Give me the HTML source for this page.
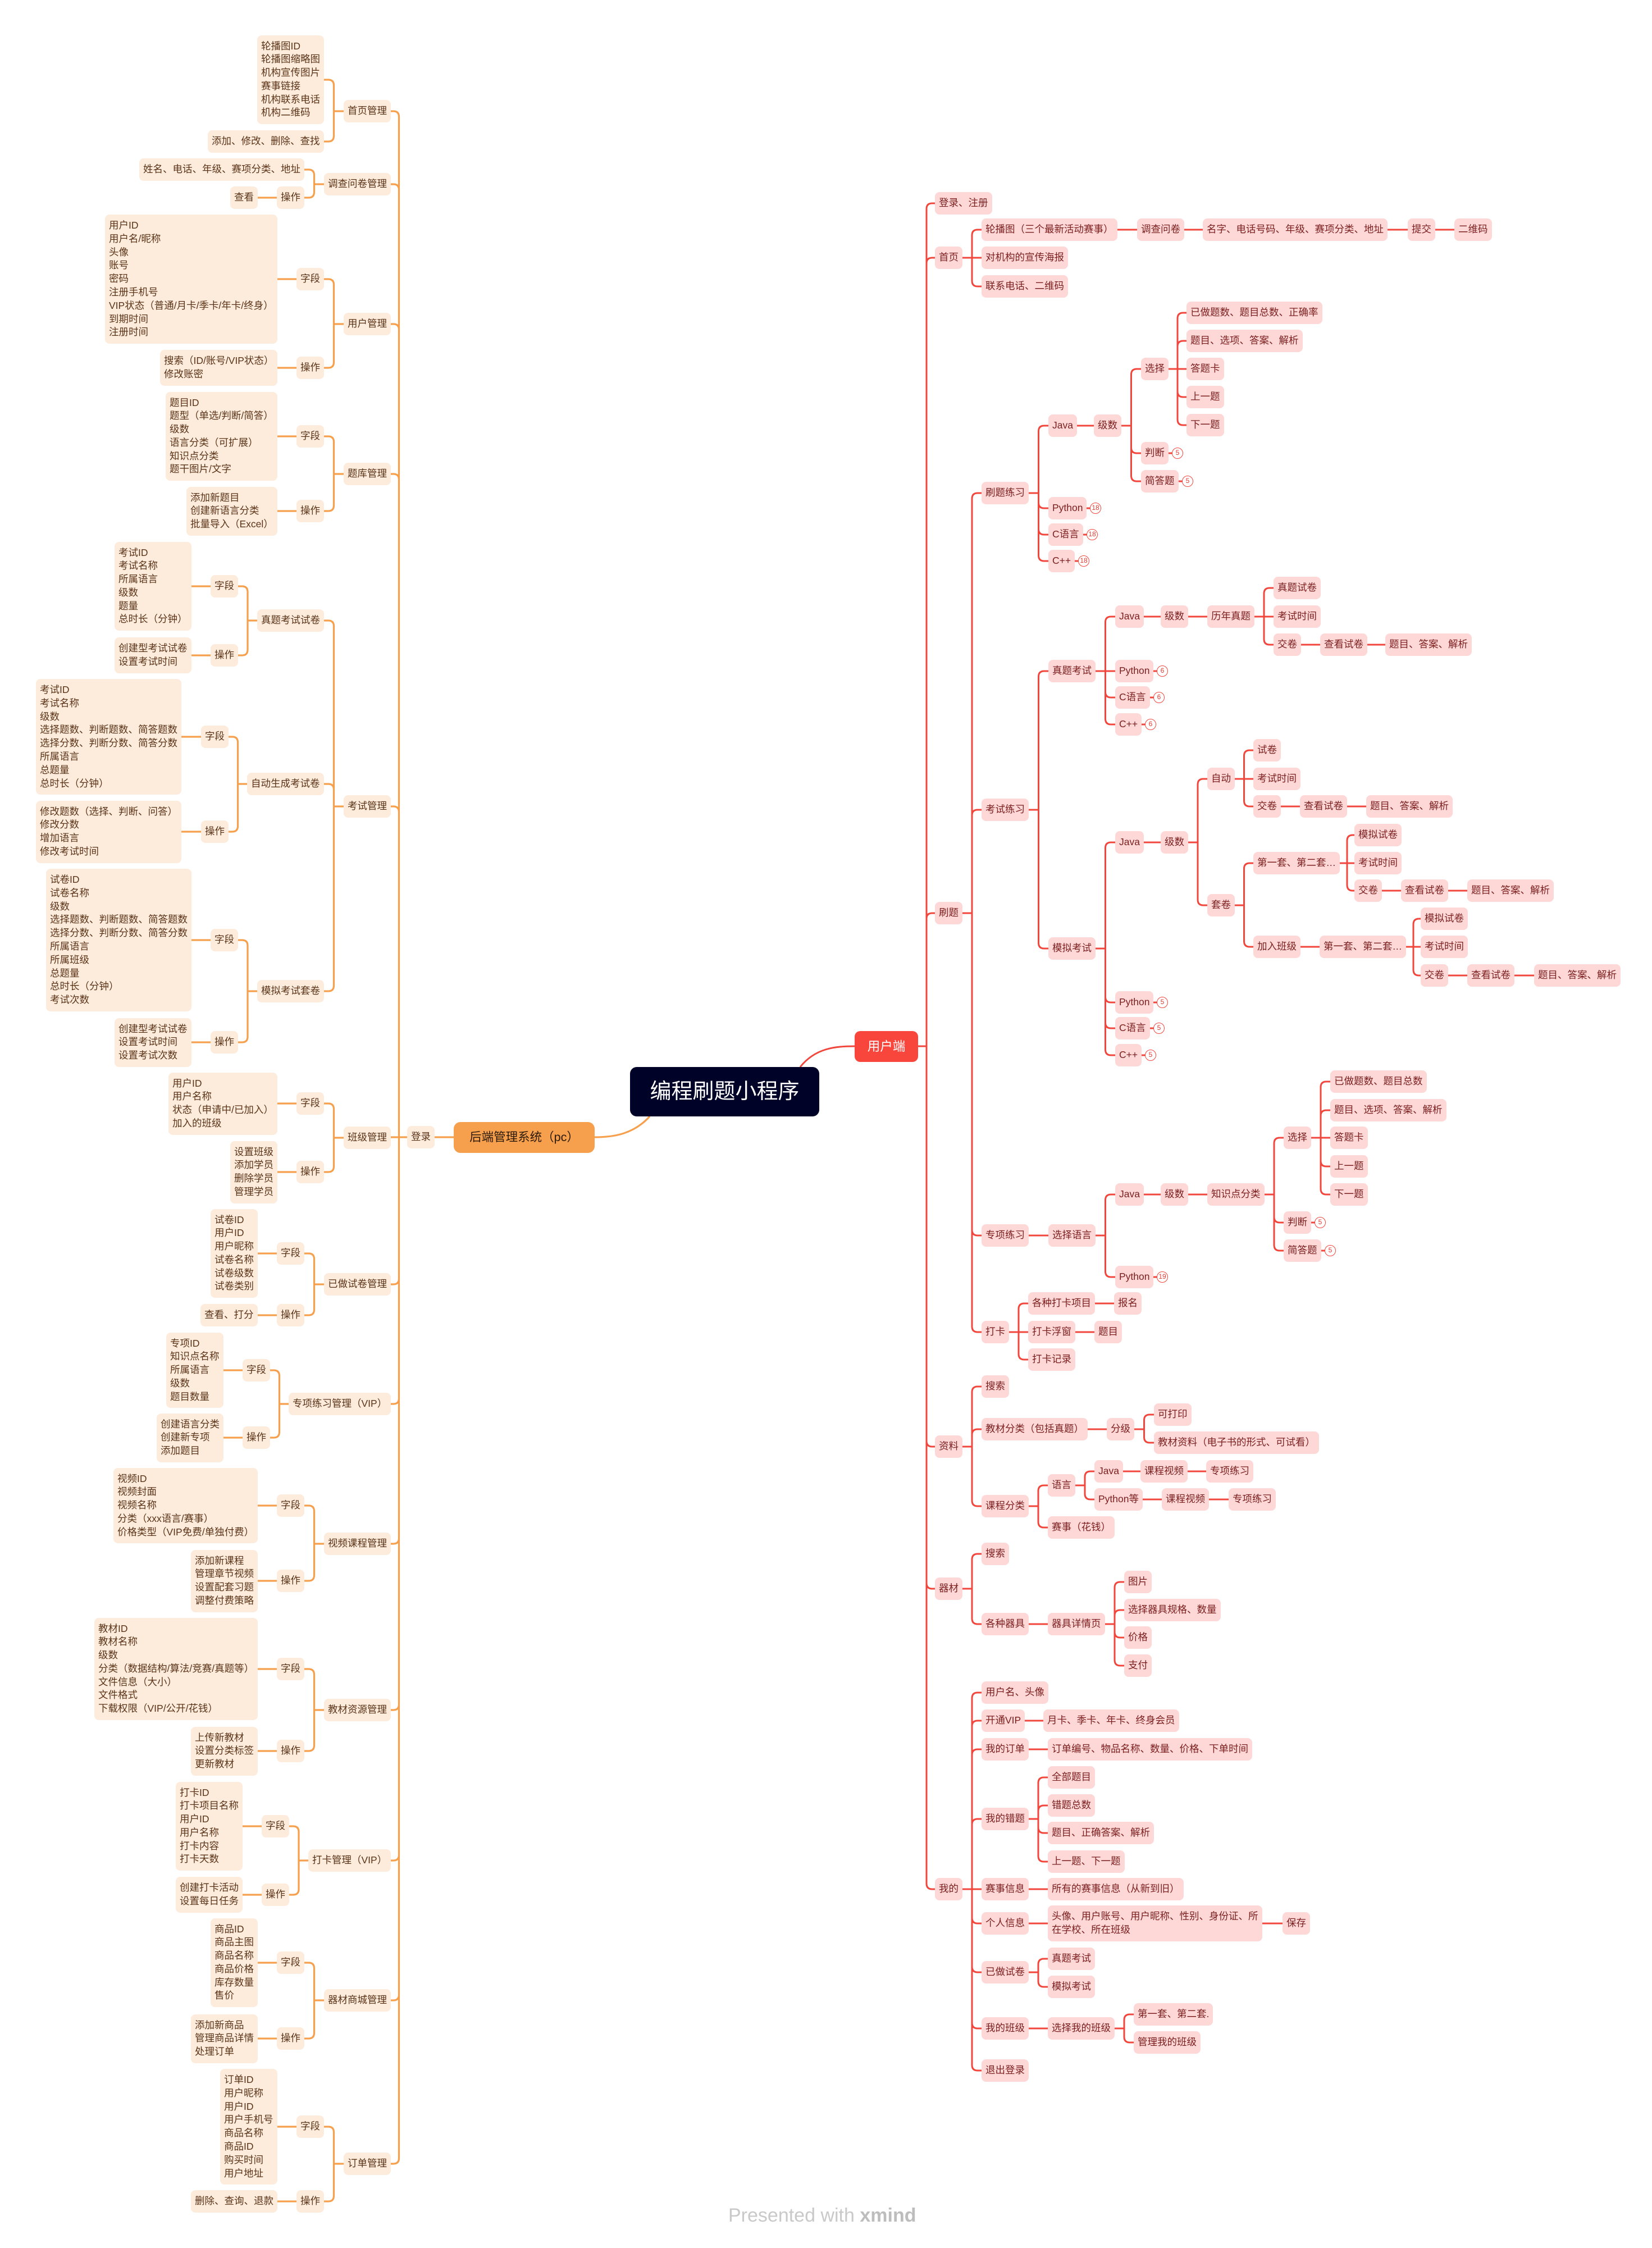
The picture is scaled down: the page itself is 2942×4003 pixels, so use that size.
<!DOCTYPE html>
<html><head><meta charset="utf-8">
<style>
html,body{margin:0;padding:0;background:#fff;}
#wrap{position:relative;width:2942px;height:4003px;overflow:hidden;font-family:"Liberation Sans","Noto Sans CJK SC",sans-serif;}
svg{position:absolute;left:0;top:0;z-index:0;}
.n{position:absolute;white-space:pre;font-size:17.5px;line-height:23.8px;padding:8px 7px;border-radius:8px;z-index:1;box-sizing:border-box;}
.L{background:#fdebdc;color:#5a3418;}
.R{background:#fed8d7;color:#7a1e1e;}
.badge{position:absolute;width:20px;height:20px;border:1.6px solid #f2463d;border-radius:50%;background:#fff;color:#e03a32;font-size:12px;text-align:center;z-index:1;box-sizing:border-box;line-height:17px;}
#root{position:absolute;left:1122px;top:1900px;width:337px;height:88px;background:#000228;color:#fff;border-radius:12px;font-size:38px;line-height:88px;text-align:center;z-index:1;}
#foot{position:absolute;left:1297px;top:3926px;font-size:34px;color:#c9c9c9;}
</style></head><body>
<div id="wrap">
<svg id="svg" width="2942" height="4003" xmlns="http://www.w3.org/2000/svg"></svg>
<div id="root">编程刷题小程序</div>
<div id="foot">Presented with <b style="color:#bdbdbd">xmind</b></div>
</div>
<script>
var W=document.getElementById('wrap');
var S=document.getElementById('svg');
var D=[
['bk','','L',1059,2025,'后端管理系统（pc）'],
['a1','bk','L',774,2025,'登录'],
['h1','a1','L',696,198,'首页管理'],
['h2','a1','L',696,328,'调查问卷管理'],
['h3','a1','L',696,577,'用户管理'],
['h4','a1','L',696,844,'题库管理'],
['h5','a1','L',696,1436,'考试管理'],
['h6','a1','L',696,2026,'班级管理'],
['h7','a1','L',696,2287,'已做试卷管理'],
['h8','a1','L',696,2500,'专项练习管理（VIP）'],
['h9','a1','L',696,2749,'视频课程管理'],
['h10','a1','L',696,3045,'教材资源管理'],
['h11','a1','L',696,3313,'打卡管理（VIP）'],
['h12','a1','L',696,3562,'器材商城管理'],
['h13','a1','L',696,3853,'订单管理'],
['h1a','h1','L',577,142,'轮播图ID\n轮播图缩略图\n机构宣传图片\n赛事链接\n机构联系电话\n机构二维码'],
['h1b','h1','L',577,252,'添加、修改、删除、查找'],
['h2a','h2','L',542,302,'姓名、电话、年级、赛项分类、地址'],
['h2b','h2','L',542,352,'操作'],
['h2c','h2b','L',459,352,'查看'],
['h3a','h3','L',577,497,'字段'],
['h3a1','h3a','L',494,497,'用户ID\n用户名/昵称\n头像\n账号\n密码\n注册手机号\nVIP状态（普通/月卡/季卡/年卡/终身）\n到期时间\n注册时间'],
['h3b','h3','L',577,655,'操作'],
['h3b1','h3b','L',494,655,'搜索（ID/账号/VIP状态）\n修改账密'],
['h4a','h4','L',577,777,'字段'],
['h4a1','h4a','L',494,777,'题目ID\n题型（单选/判断/简答）\n级数\n语言分类（可扩展）\n知识点分类\n题干图片/文字'],
['h4b','h4','L',577,910,'操作'],
['h4b1','h4b','L',494,910,'添加新题目\n创建新语言分类\n批量导入（Excel）'],
['h5a','h5','L',577,1105,'真题考试试卷'],
['h5a1','h5a','L',424,1044,'字段'],
['h5a11','h5a1','L',341,1044,'考试ID\n考试名称\n所属语言\n级数\n题量\n总时长（分钟）'],
['h5a2','h5a','L',424,1167,'操作'],
['h5a21','h5a2','L',341,1167,'创建型考试试卷\n设置考试时间'],
['h5b','h5','L',577,1396,'自动生成考试卷'],
['h5b1','h5b','L',407,1312,'字段'],
['h5b11','h5b1','L',323,1312,'考试ID\n考试名称\n级数\n选择题数、判断题数、简答题数\n选择分数、判断分数、简答分数\n所属语言\n总题量\n总时长（分钟）'],
['h5b2','h5b','L',407,1481,'操作'],
['h5b21','h5b2','L',323,1481,'修改题数（选择、判断、问答）\n修改分数\n增加语言\n修改考试时间'],
['h5c','h5','L',577,1765,'模拟考试套卷'],
['h5c1','h5c','L',424,1674,'字段'],
['h5c11','h5c1','L',341,1674,'试卷ID\n试卷名称\n级数\n选择题数、判断题数、简答题数\n选择分数、判断分数、简答分数\n所属语言\n所属班级\n总题量\n总时长（分钟）\n考试次数'],
['h5c2','h5c','L',424,1856,'操作'],
['h5c21','h5c2','L',341,1856,'创建型考试试卷\n设置考试时间\n设置考试次数'],
['h6a','h6','L',577,1965,'字段'],
['h6a1','h6a','L',494,1965,'用户ID\n用户名称\n状态（申请中/已加入）\n加入的班级'],
['h6b','h6','L',577,2087,'操作'],
['h6b1','h6b','L',494,2087,'设置班级\n添加学员\n删除学员\n管理学员'],
['h7a','h7','L',542,2232,'字段'],
['h7a1','h7a','L',459,2232,'试卷ID\n用户ID\n用户昵称\n试卷名称\n试卷级数\n试卷类别'],
['h7b','h7','L',542,2342,'操作'],
['h7b1','h7b','L',459,2342,'查看、打分'],
['h8a','h8','L',481,2440,'字段'],
['h8a1','h8a','L',398,2440,'专项ID\n知识点名称\n所属语言\n级数\n题目数量'],
['h8b','h8','L',481,2560,'操作'],
['h8b1','h8b','L',398,2560,'创建语言分类\n创建新专项\n添加题目'],
['h9a','h9','L',542,2681,'字段'],
['h9a1','h9a','L',459,2681,'视频ID\n视频封面\n视频名称\n分类（xxx语言/赛事）\n价格类型（VIP免费/单独付费）'],
['h9b','h9','L',542,2815,'操作'],
['h9b1','h9b','L',459,2815,'添加新课程\n管理章节视频\n设置配套习题\n调整付费策略'],
['h10a','h10','L',542,2972,'字段'],
['h10a1','h10a','L',459,2972,'教材ID\n教材名称\n级数\n分类（数据结构/算法/竞赛/真题等）\n文件信息（大小）\n文件格式\n下载权限（VIP/公开/花钱）'],
['h10b','h10','L',542,3118,'操作'],
['h10b1','h10b','L',459,3118,'上传新教材\n设置分类标签\n更新教材'],
['h11a','h11','L',515,3252,'字段'],
['h11a1','h11a','L',432,3252,'打卡ID\n打卡项目名称\n用户ID\n用户名称\n打卡内容\n打卡天数'],
['h11b','h11','L',515,3374,'操作'],
['h11b1','h11b','L',432,3374,'创建打卡活动\n设置每日任务'],
['h12a','h12','L',542,3495,'字段'],
['h12a1','h12a','L',459,3495,'商品ID\n商品主图\n商品名称\n商品价格\n库存数量\n售价'],
['h12b','h12','L',542,3630,'操作'],
['h12b1','h12b','L',459,3630,'添加新商品\n管理商品详情\n处理订单'],
['h13a','h13','L',577,3787,'字段'],
['h13a1','h13a','L',494,3787,'订单ID\n用户昵称\n用户ID\n用户手机号\n商品名称\n商品ID\n购买时间\n用户地址'],
['h13b','h13','L',577,3920,'操作'],
['h13b1','h13b','L',494,3920,'删除、查询、退款'],
['r0','','R',1522,1863,'用户端'],
['b1','r0','R',1665,362,'登录、注册'],
['b2','r0','R',1665,459,'首页'],
['b3','r0','R',1665,1626,'刷题'],
['b4','r0','R',1665,2576,'资料'],
['b5','r0','R',1665,2829,'器材'],
['b6','r0','R',1665,3364,'我的'],
['c1','b2','R',1748,409,'轮播图（三个最新活动赛事）'],
['c2','b2','R',1748,459,'对机构的宣传海报'],
['c3','b2','R',1748,510,'联系电话、二维码'],
['c11','c1','R',2025,409,'调查问卷'],
['c12','c11','R',2142,409,'名字、电话号码、年级、赛项分类、地址'],
['c13','c12','R',2507,409,'提交'],
['c14','c13','R',2590,409,'二维码'],
['d1','b3','R',1748,878,'刷题练习'],
['d2','b3','R',1748,1442,'考试练习'],
['d3','b3','R',1748,2200,'专项练习'],
['d4','b3','R',1748,2372,'打卡'],
['e1','d1','R',1867,758,'Java'],
['e2','d1','R',1867,905,'Python',18],
['e3','d1','R',1867,952,'C语言',18],
['e4','d1','R',1867,999,'C++',18],
['e11','e1','R',1948,758,'级数'],
['e111','e11','R',2032,657,'选择'],
['e112','e11','R',2032,807,'判断',5],
['e113','e11','R',2032,857,'简答题',5],
['f1','e111','R',2113,557,'已做题数、题目总数、正确率'],
['f2','e111','R',2113,607,'题目、选项、答案、解析'],
['f3','e111','R',2113,657,'答题卡'],
['f4','e111','R',2113,707,'上一题'],
['f5','e111','R',2113,757,'下一题'],
['g1','d2','R',1867,1195,'真题考试'],
['g2','d2','R',1867,1689,'模拟考试'],
['g11','g1','R',1986,1098,'Java'],
['g12','g1','R',1986,1195,'Python',6],
['g13','g1','R',1986,1242,'C语言',6],
['g14','g1','R',1986,1290,'C++',6],
['g111','g11','R',2067,1098,'级数'],
['g112','g111','R',2150,1098,'历年真题'],
['g1a','g112','R',2268,1047,'真题试卷'],
['g1b','g112','R',2268,1098,'考试时间'],
['g1c','g112','R',2268,1148,'交卷'],
['g1d','g1c','R',2351,1148,'查看试卷'],
['g1e','g1d','R',2467,1148,'题目、答案、解析'],
['g21','g2','R',1986,1500,'Java'],
['g22','g2','R',1986,1785,'Python',5],
['g23','g2','R',1986,1831,'C语言',5],
['g24','g2','R',1986,1879,'C++',5],
['g211','g21','R',2067,1500,'级数'],
['k1','g211','R',2150,1387,'自动'],
['k2','g211','R',2150,1612,'套卷'],
['k11','k1','R',2232,1336,'试卷'],
['k12','k1','R',2232,1387,'考试时间'],
['k13','k1','R',2232,1436,'交卷'],
['k14','k13','R',2315,1436,'查看试卷'],
['k15','k14','R',2433,1436,'题目、答案、解析'],
['k21','k2','R',2232,1537,'第一套、第二套…'],
['k22','k2','R',2232,1686,'加入班级'],
['m1','k21','R',2412,1487,'模拟试卷'],
['m2','k21','R',2412,1537,'考试时间'],
['m3','k21','R',2412,1586,'交卷'],
['m4','m3','R',2495,1586,'查看试卷'],
['m5','m4','R',2613,1586,'题目、答案、解析'],
['p0','k22','R',2350,1686,'第一套、第二套…'],
['p1','p0','R',2530,1636,'模拟试卷'],
['p2','p0','R',2530,1686,'考试时间'],
['p3','p0','R',2530,1737,'交卷'],
['p4','p3','R',2613,1737,'查看试卷'],
['p5','p4','R',2732,1737,'题目、答案、解析'],
['q0','d3','R',1867,2200,'选择语言'],
['q1','q0','R',1986,2127,'Java'],
['q2','q0','R',1986,2274,'Python',19],
['q11','q1','R',2067,2127,'级数'],
['q12','q11','R',2150,2127,'知识点分类'],
['q21','q12','R',2286,2026,'选择'],
['q22','q12','R',2286,2177,'判断',5],
['q23','q12','R',2286,2227,'简答题',5],
['s1','q21','R',2369,1926,'已做题数、题目总数'],
['s2','q21','R',2369,1977,'题目、选项、答案、解析'],
['s3','q21','R',2369,2026,'答题卡'],
['s4','q21','R',2369,2077,'上一题'],
['s5','q21','R',2369,2127,'下一题'],
['t1','d4','R',1831,2321,'各种打卡项目'],
['t2','d4','R',1831,2372,'打卡浮窗'],
['t3','d4','R',1831,2421,'打卡记录'],
['t11','t1','R',1984,2321,'报名'],
['t21','t2','R',1949,2372,'题目'],
['u1','b4','R',1748,2469,'搜索'],
['u2','b4','R',1748,2545,'教材分类（包括真题）'],
['u3','b4','R',1748,2682,'课程分类'],
['u21','u2','R',1971,2545,'分级'],
['u211','u21','R',2055,2519,'可打印'],
['u212','u21','R',2055,2569,'教材资料（电子书的形式、可试看）'],
['u31','u3','R',1866,2645,'语言'],
['u32','u3','R',1866,2720,'赛事（花钱）'],
['u311','u31','R',1949,2620,'Java'],
['u312','u31','R',1949,2670,'Python等'],
['u3111','u311','R',2031,2620,'课程视频'],
['u3112','u3111','R',2148,2620,'专项练习'],
['u3121','u312','R',2069,2670,'课程视频'],
['u3122','u3121','R',2188,2670,'专项练习'],
['v1','b5','R',1748,2767,'搜索'],
['v2','b5','R',1748,2892,'各种器具'],
['v21','v2','R',1866,2892,'器具详情页'],
['v211','v21','R',2002,2817,'图片'],
['v212','v21','R',2002,2867,'选择器具规格、数量'],
['v213','v21','R',2002,2916,'价格'],
['v214','v21','R',2002,2966,'支付'],
['w1','b6','R',1748,3014,'用户名、头像'],
['w2','b6','R',1748,3064,'开通VIP'],
['w3','b6','R',1748,3115,'我的订单'],
['w4','b6','R',1748,3239,'我的错题'],
['w5','b6','R',1748,3364,'赛事信息'],
['w6','b6','R',1748,3425,'个人信息'],
['w7','b6','R',1748,3512,'已做试卷'],
['w8','b6','R',1748,3612,'我的班级'],
['w9','b6','R',1748,3687,'退出登录'],
['w21','w2','R',1858,3064,'月卡、季卡、年卡、终身会员'],
['w31','w3','R',1866,3115,'订单编号、物品名称、数量、价格、下单时间'],
['w41','w4','R',1866,3165,'全部题目'],
['w42','w4','R',1866,3215,'错题总数'],
['w43','w4','R',1866,3264,'题目、正确答案、解析'],
['w44','w4','R',1866,3315,'上一题、下一题'],
['w51','w5','R',1866,3364,'所有的赛事信息（从新到旧）'],
['w61','w6','R',1866,3425,'头像、用户账号、用户昵称、性别、身份证、所\n在学校、所在班级'],
['w62','w61','R',2284,3425,'保存'],
['w71','w7','R',1866,3488,'真题考试'],
['w72','w7','R',1866,3538,'模拟考试'],
['w81','w8','R',1866,3612,'选择我的班级'],
['w811','w81','R',2019,3587,'第一套、第二套.'],
['w812','w81','R',2019,3637,'管理我的班级'],
];
var N={},K={};
D.forEach(function(d){
  var o={id:d[0],p:d[1],s:d[2],x:d[3],y:d[4],t:d[5],b:d[6]};
  var e=document.createElement('div');
  e.className='n '+o.s;e.textContent=o.t;
  if(o.id=='bk'){e.style.cssText='background:#f6a04e;color:#2b1a0a;font-size:21.5px;width:251px;height:55px;line-height:39px;text-align:center;border-radius:12px;';}
  if(o.id=='r0'){e.style.cssText='background:#f9463d;color:#fff;font-size:22.5px;width:113px;height:55px;line-height:39px;text-align:center;border-radius:10px;';}
  W.appendChild(e);o.e=e;N[o.id]=o;
  if(o.p){(K[o.p]=K[o.p]||[]).push(o);}
});
var paths={L:'',R:''};
D.forEach(function(d){
  var o=N[d[0]];var w=o.e.offsetWidth,h=o.e.offsetHeight;
  o.w=w;o.h=h;
  if(o.s=='R'){o.l=o.x;o.r=o.x+w;}else{o.l=o.x-w;o.r=o.x;}
  o.e.style.left=o.l+'px';o.e.style.top=(o.y-h/2)+'px';
  if(o.b){
    var bd=document.createElement('div');bd.className='badge';bd.textContent=o.b;
    bd.style.left=(o.r+6)+'px';bd.style.top=(o.y-10)+'px';W.appendChild(bd);
    paths.R+='M'+o.r+','+o.y+'H'+(o.r+7);
  }
});
var rr=10;
for(var pid in K){
  var p=N[pid],kids=K[pid],s=kids[0].s;
  var dir=s=='R'?1:-1;
  var pe=s=='R'?p.r:p.l;
  var ce=s=='R'?Math.min.apply(null,kids.map(function(k){return k.l})):Math.max.apply(null,kids.map(function(k){return k.r}));
  var d='';
  if(kids.length==1&&Math.abs(kids[0].y-p.y)<3){
    var k=kids[0];d+='M'+pe+','+p.y+'H'+(s=='R'?k.l:k.r);
  }else{
    var tx=(pe+ce)/2;
    d+='M'+pe+','+p.y+'H'+tx;
    kids.forEach(function(k){
      var kx=s=='R'?k.l:k.r;var dy=k.y-p.y;
      if(Math.abs(dy)<2){d+='M'+tx+','+p.y+'H'+kx;}
      else{var sg=dy>0?1:-1;var r=Math.min(rr,Math.abs(dy));
        d+='M'+tx+','+p.y+'V'+(k.y-sg*r)+'Q'+tx+','+k.y+' '+(tx+dir*r)+','+k.y+'H'+kx;}
    });
  }
  paths[s]+=d;
}
paths.R+='M1425,1900C1452,1866 1488,1863 1522,1863';
paths.L+='M1157,1988C1128,2020 1092,2025 1059,2025';
S.innerHTML='<path d="'+paths.L+'" fill="none" stroke="#f6a04e" stroke-width="3.2"/>'+
 '<path d="'+paths.R+'" fill="none" stroke="#f2463d" stroke-width="3"/>';
</script>
</body></html>
